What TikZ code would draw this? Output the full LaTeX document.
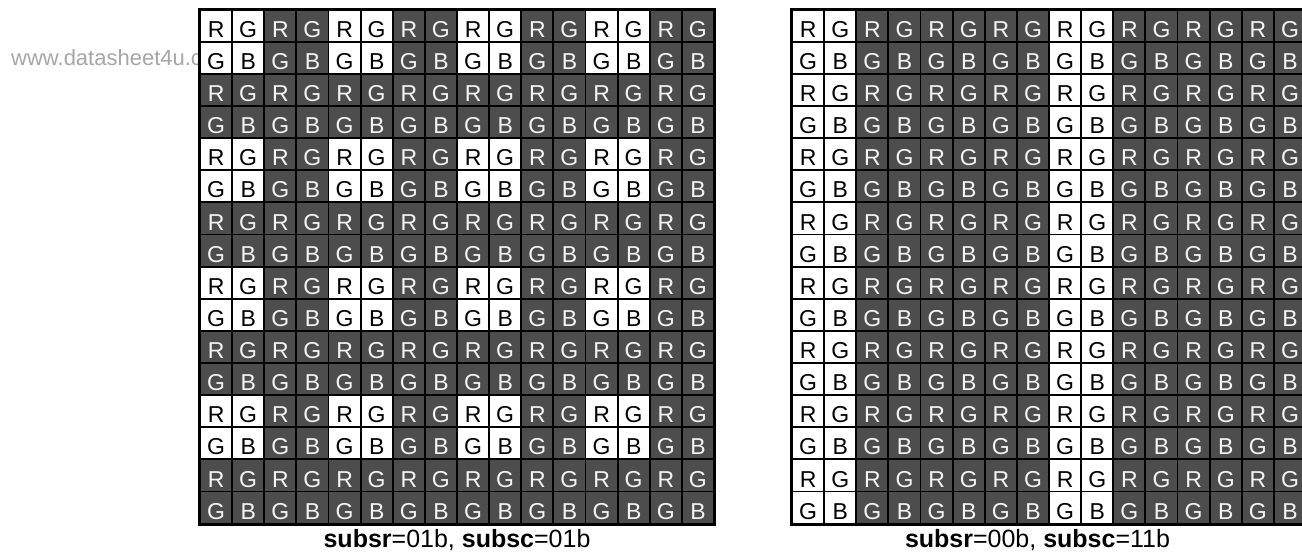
\documentclass[tikz,border=0pt]{standalone}
\usepackage{fontspec}
\setmainfont{Liberation Sans}
\definecolor{dimfill}{HTML}{4D4D4D}
\definecolor{dimtext}{HTML}{F4F4F4}
\definecolor{wmark}{HTML}{A6A6A6}
\begin{document}
\begin{tikzpicture}[x=1pt,y=-1pt,
  cell/.style={draw=black, line width=1.8pt, minimum size=32.125pt, inner sep=0pt,
    font=\fontsize{23}{23}\selectfont, text height=23.2pt, text depth=0pt},
  lit/.style={cell, fill=white, text=black},
  dim/.style={cell, fill=dimfill, text=dimtext},
  frame/.style={draw=black, line width=2.2pt},
  caption/.style={font=\fontsize{25}{25}\selectfont, anchor=base, inner sep=0pt},
  watermark/.style={font=\fontsize{22}{22}\selectfont, text=wmark, anchor=base west, inner sep=0pt}]
\useasboundingbox (0,0) rectangle (1302,552);
\fill[white] (0,0) rectangle (1302,552);
\node[watermark] (wm) at (11,65) {www.datasheet4u.com};
% left grid: subsr=01b, subsc=01b
\foreach \r in {0,...,15} {
  \foreach \c in {0,...,15} {
    \pgfmathtruncatemacro\litL{and(mod(\r,4)<2, mod(\c,4)<2)}
    \ifnum\litL=1
      \node[lit] (L-\r-\c) at ({216.0625+32.125*\c},{25.6625+32.125*\r}) {\ifodd\r\ifodd\c B\else G\fi\else\ifodd\c G\else R\fi\fi};
    \else
      \node[dim] (L-\r-\c) at ({216.0625+32.125*\c},{25.6625+32.125*\r}) {\ifodd\r\ifodd\c B\else G\fi\else\ifodd\c G\else R\fi\fi};
    \fi
  }
}
\draw[frame] (L-0-0.north west) rectangle (L-15-15.south east);
% right grid: subsr=00b, subsc=11b
\foreach \r in {0,...,15} {
  \foreach \c in {0,...,15} {
    \pgfmathtruncatemacro\litR{or(mod(\c,8)==0, mod(\c,8)==1)}
    \ifnum\litR=1
      \node[lit] (R-\r-\c) at ({808.0625+32.125*\c},{25.6625+32.125*\r}) {\ifodd\r\ifodd\c B\else G\fi\else\ifodd\c G\else R\fi\fi};
    \else
      \node[dim] (R-\r-\c) at ({808.0625+32.125*\c},{25.6625+32.125*\r}) {\ifodd\r\ifodd\c B\else G\fi\else\ifodd\c G\else R\fi\fi};
    \fi
  }
}
\draw[frame] (R-0-0.north west) rectangle (R-15-15.south east);
\node[caption] (capL) at (457,547.5) {\textbf{subsr}=01b, \textbf{subsc}=01b};
\node[caption] (capR) at (1037.5,547.5) {\textbf{subsr}=00b, \textbf{subsc}=11b};
\end{tikzpicture}
\end{document}
